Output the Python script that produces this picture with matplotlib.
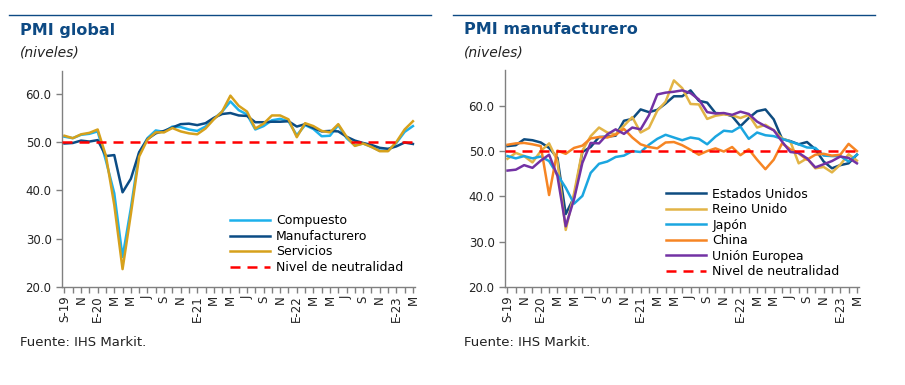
import matplotlib
matplotlib.use("Agg")
from matplotlib import pyplot as plt
from matplotlib.lines import Line2D

# monthly data, Sep-2019 .. Mar-2023 (43 months)
mes = ["E", "F", "M", "A", "M", "J", "J", "A", "S", "O", "N", "D"]
meses_idx = [8, 9, 10, 11] + list(range(12)) * 3 + [0, 1, 2]
anios = [19] * 4 + [20] * 12 + [21] * 12 + [22] * 12 + [23] * 3

# PMI global
compuesto = [51.1, 50.8, 51.5, 51.7, 52.2, 46.1, 39.4, 26.2, 36.3, 47.8, 50.8, 52.4,
             52.1, 53.2, 53.1, 52.6, 52.3, 53.2, 54.8, 56.3, 58.4, 56.6, 55.7, 52.6,
             53.3, 54.5, 54.8, 54.3, 51.4, 53.5, 52.7, 51.2, 51.3, 53.5, 50.8, 49.3,
             49.7, 49.0, 48.2, 48.2, 49.8, 52.1, 53.3]
manufacturero = [49.7, 49.8, 50.3, 50.1, 50.4, 47.1, 47.3, 39.6, 42.4, 47.9, 50.6, 51.8,
                 52.3, 53.0, 53.7, 53.8, 53.5, 53.9, 55.0, 55.8, 56.0, 55.5, 55.4, 54.1,
                 54.1, 54.2, 54.2, 54.3, 53.2, 53.7, 52.9, 52.2, 52.3, 52.2, 51.1, 50.3,
                 49.8, 49.4, 48.8, 48.6, 49.1, 49.9, 49.6]
servicios = [51.3, 50.8, 51.6, 51.9, 52.6, 47.1, 37.0, 23.7, 35.1, 47.0, 50.5, 52.0,
             52.0, 52.9, 52.2, 51.8, 51.6, 52.8, 54.7, 56.3, 59.6, 57.5, 56.3, 52.8,
             53.8, 55.5, 55.5, 54.7, 51.0, 53.9, 53.3, 52.3, 52.0, 53.7, 51.1, 49.2,
             49.7, 49.0, 48.1, 48.1, 50.0, 52.6, 54.3]

# PMI manufacturero por pais
eeuu = [51.1, 51.3, 52.6, 52.4, 51.9, 50.7, 48.5, 36.1, 39.8, 49.8, 50.9, 53.1,
        53.2, 53.4, 56.7, 57.1, 59.2, 58.6, 59.1, 60.5, 62.1, 62.1, 63.4, 61.1,
        60.7, 58.4, 58.3, 57.7, 55.5, 57.3, 58.8, 59.2, 57.0, 52.7, 52.2, 51.5,
        52.0, 50.4, 47.7, 46.2, 46.9, 47.3, 49.2]
reino_unido = [48.3, 49.6, 48.9, 47.5, 50.0, 51.7, 47.8, 32.6, 40.7, 50.1, 53.3, 55.2,
               54.1, 53.7, 55.6, 57.5, 54.1, 55.1, 58.9, 60.9, 65.6, 63.9, 60.4, 60.3,
               57.1, 57.8, 58.1, 57.9, 57.3, 58.0, 55.2, 55.8, 54.6, 52.8, 52.1, 47.3,
               48.4, 46.2, 46.5, 45.3, 47.0, 49.3, 47.9]
japon = [48.9, 48.4, 48.9, 48.4, 48.8, 47.8, 44.8, 41.9, 38.4, 40.1, 45.2, 47.2,
         47.7, 48.7, 49.0, 50.0, 49.8, 51.4, 52.7, 53.6, 53.0, 52.4, 53.0, 52.7,
         51.5, 53.2, 54.5, 54.3, 55.4, 52.7, 54.1, 53.5, 53.3, 52.7, 52.1, 51.5,
         50.8, 50.7, 49.0, 48.9, 48.9, 47.7, 49.2]
china = [51.4, 51.7, 51.8, 51.5, 51.1, 40.3, 50.1, 49.4, 50.7, 51.2, 52.8, 53.1,
         53.0, 53.6, 54.9, 53.0, 51.5, 50.9, 50.6, 51.9, 52.0, 51.3, 50.3, 49.2,
         50.0, 50.6, 49.9, 50.9, 49.1, 50.4, 48.1, 46.0, 48.1, 51.7, 50.4, 49.5,
         48.1, 49.2, 49.4, 49.0, 49.2, 51.6, 50.0]
union_europea = [45.7, 45.9, 46.9, 46.3, 47.9, 49.2, 44.5, 33.4, 39.4, 47.4, 51.8, 51.7,
                 53.7, 54.8, 53.8, 55.2, 54.8, 57.9, 62.5, 62.9, 63.1, 63.4, 62.8, 61.4,
                 58.6, 58.3, 58.4, 58.0, 58.7, 58.2, 56.5, 55.5, 54.6, 52.1, 49.8, 49.6,
                 48.4, 46.4, 47.1, 47.8, 48.8, 48.5, 47.3]

neutral = 50

x = list(range(len(compuesto)))
etiquetas = []
for i in x:
    m = mes[meses_idx[i]]
    if i == 0 or meses_idx[i] == 0:
        etiquetas.append(m + "-" + str(anios[i]))
    else:
        etiquetas.append(m)

azul_titulo = "#0D4A84"

fig = plt.figure(figsize=(9.05, 3.85), dpi=100)

def formato(ax, ylim):
    ax.set_xlim(-0.3, len(x) - 0.75)
    ax.set_ylim(*ylim)
    for s in ["top", "right"]:
        ax.spines[s].set_visible(False)
    for s in ["left", "bottom"]:
        ax.spines[s].set_color("#808080")
        ax.spines[s].set_linewidth(1)
    ax.set_yticks([20, 30, 40, 50, 60])
    ax.set_yticklabels(["20.0", "30.0", "40.0", "50.0", "60.0"])
    ax.set_xticks(x)
    ax.set_xticklabels([etiquetas[i] if i % 2 == 0 else "" for i in x], rotation=90)
    ax.tick_params(axis="both", labelsize=8.5, color="#808080", length=4, width=1,
                   labelcolor="#222222")
    ax.tick_params(axis="x", pad=2)

# ---- left: PMI global
ax1 = fig.add_axes([62 / 905, 1 - 287 / 385, 353 / 905, 216 / 385])
ax1.plot(x, compuesto, color="#1DB1EC", lw=1.8, label="Compuesto")
ax1.plot(x, manufacturero, color="#0B4C85", lw=1.8, label="Manufacturero")
ax1.plot(x, servicios, color="#D6A11C", lw=1.8, label="Servicios")
ax1.axhline(neutral, color="#FF0000", lw=1.8, ls=(0, (4, 2.8)), zorder=5,
            label="Nivel de neutralidad")
formato(ax1, (20, 64.7))
ax1.legend(loc="lower left", bbox_to_anchor=(0.45, 0.02), frameon=False, fontsize=9,
           handlelength=3.2, labelspacing=0.2, handletextpad=0.5, borderpad=0.2)

# ---- right: PMI manufacturero
ax2 = fig.add_axes([505 / 905, 1 - 287 / 385, 354 / 905, 217 / 385])
ax2.plot(x, eeuu, color="#0E4C80", lw=1.8, label="Estados Unidos")
ax2.plot(x, reino_unido, color="#E2B446", lw=1.8, label="Reino Unido")
ax2.plot(x, japon, color="#1BA6E0", lw=1.8, label="Japón")
ax2.plot(x, china, color="#F68524", lw=1.8, label="China")
ax2.plot(x, union_europea, color="#7332A4", lw=1.8, label="Unión Europea")
ax2.axhline(neutral, color="#FF0000", lw=1.8, ls=(0, (4, 2.8)), zorder=5,
            label="Nivel de neutralidad")
formato(ax2, (20, 67.9))
ax2.legend(loc="lower left", bbox_to_anchor=(0.43, 0.0), frameon=False, fontsize=9,
           handlelength=3.2, labelspacing=0.2, handletextpad=0.5, borderpad=0.2)

# titles, rules and sources
fig.add_artist(Line2D([9 / 905, 431 / 905], [1 - 15 / 385] * 2, color=azul_titulo, lw=1))
fig.add_artist(Line2D([453 / 905, 875 / 905], [1 - 15 / 385] * 2, color=azul_titulo, lw=1))
fig.text(20 / 905, 1 - 30 / 385, "PMI global", color=azul_titulo, fontsize=11.5,
         fontweight="bold", va="center", ha="left")
fig.text(464 / 905, 1 - 30 / 385, "PMI manufacturero", color=azul_titulo, fontsize=11.5,
         fontweight="bold", va="center", ha="left")
fig.text(20 / 905, 1 - 52 / 385, "(niveles)", fontsize=10, style="italic",
         va="center", ha="left", color="#222222")
fig.text(464 / 905, 1 - 52 / 385, "(niveles)", fontsize=10, style="italic",
         va="center", ha="left", color="#222222")
fig.text(20 / 905, 1 - 342 / 385, "Fuente: IHS Markit.", fontsize=9.5,
         va="center", ha="left", color="#222222")
fig.text(464 / 905, 1 - 342 / 385, "Fuente: IHS Markit.", fontsize=9.5,
         va="center", ha="left", color="#222222")

fig.savefig("out.png", dpi=100)
